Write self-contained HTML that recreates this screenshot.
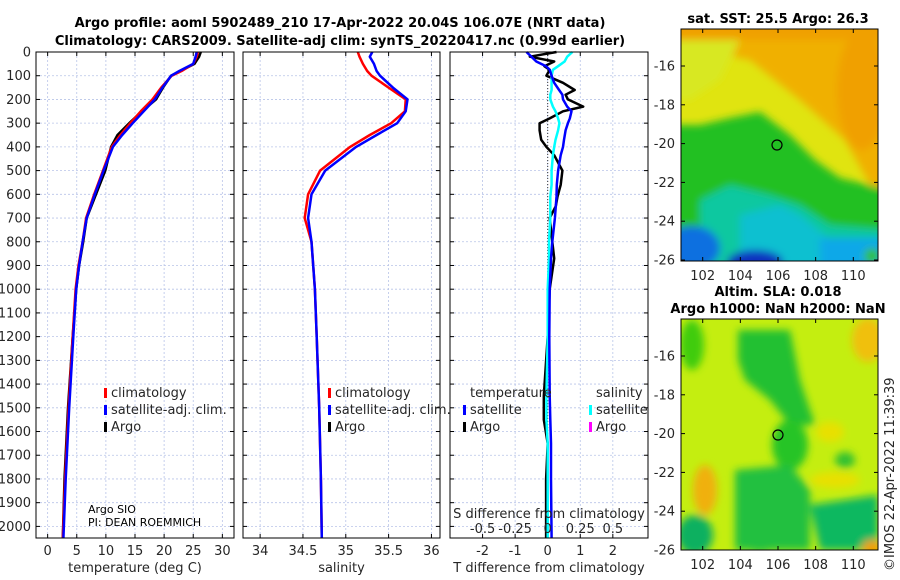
<!DOCTYPE html>
<html><head><meta charset="utf-8"><style>
body{margin:0;background:#fff;}
svg{display:block;font-family:"DejaVu Sans","Liberation Sans",sans-serif;}
.t{font-size:13px;fill:#262626;}
.b{font-size:13px;font-weight:bold;fill:#000;}
.s{font-size:11px;fill:#000;}
</style></head><body>
<svg id="c" width="900" height="580" viewBox="0 0 900 580">
<defs>
<filter id="bl" x="-30%" y="-30%" width="160%" height="160%"><feGaussianBlur stdDeviation="4"/></filter>
<clipPath id="m1"><rect x="681" y="29" width="197" height="232"/></clipPath>
<clipPath id="m2"><rect x="681" y="319" width="197" height="231"/></clipPath>
</defs>
<text class="b" x="340" y="27" text-anchor="middle">Argo profile: aoml 5902489_210 17-Apr-2022 20.04S 106.07E (NRT data)</text>
<text class="b" x="340" y="45" text-anchor="middle">Climatology: CARS2009. Satellite-adj clim: synTS_20220417.nc (0.99d earlier)</text>

<g clip-path="url(#m1)">
<rect x="681" y="29" width="197" height="232" fill="#e0e410"/>
<g filter="url(#bl)">
<rect x="660" y="10" width="240" height="30" fill="#f0a000"/>
<polygon points="700,40 900,40 900,190 870,185 845,140 800,100 750,60 700,50" fill="#f0b000"/>
<ellipse cx="862" cy="90" rx="25" ry="60" fill="#f0a000"/>
<polygon points="670,40 740,40 720,80 690,100 670,100" fill="#d8e820"/>
<polygon points="670,125 700,125 730,118 760,112 790,135 815,160 840,178 890,190 890,270 670,270" fill="#20c020"/>
<polygon points="700,200 730,185 770,195 800,205 830,225 890,230 890,270 700,270" fill="#10c8a0"/>
<polygon points="740,215 780,205 800,215 830,240 890,245 890,270 740,270" fill="#10c0d0"/>
<rect x="820" y="238" width="70" height="30" fill="#10a8e8"/>
<ellipse cx="692" cy="248" rx="28" ry="22" fill="#1070e0"/>
<ellipse cx="755" cy="262" rx="28" ry="12" fill="#0830c0"/>
<ellipse cx="872" cy="256" rx="8" ry="8" fill="#30c030"/>
</g>
<circle cx="777" cy="145" r="5" fill="none" stroke="#000" stroke-width="1.2"/>
</g>
<rect x="681" y="29" width="197" height="232" fill="none" stroke="#000"/>
<text class="b" x="778" y="23" text-anchor="middle">sat. SST: 25.5 Argo: 26.3</text>

<g clip-path="url(#m2)">
<rect x="681" y="319" width="197" height="231" fill="#c4ee10"/>
<g filter="url(#bl)">
<ellipse cx="692" cy="345" rx="12" ry="25" fill="#40cc10"/>
<polygon points="738,330 790,330 800,380 815,425 790,425 770,400 745,380 738,360" fill="#20c030"/>
<ellipse cx="790" cy="445" rx="18" ry="25" fill="#28c428"/>
<polygon points="735,470 790,465 810,490 810,550 735,550" fill="#20c040"/>
<ellipse cx="760" cy="540" rx="20" ry="12" fill="#20c040"/>
<polygon points="810,505 878,495 878,550 820,550" fill="#10b860"/>
<ellipse cx="695" cy="535" rx="18" ry="20" fill="#10b060"/>
<ellipse cx="845" cy="460" rx="10" ry="8" fill="#30c030"/>
<ellipse cx="705" cy="490" rx="12" ry="25" fill="#f0b010"/>
<ellipse cx="868" cy="340" rx="16" ry="22" fill="#f0c010"/>
<ellipse cx="872" cy="548" rx="10" ry="8" fill="#f0a000"/>
<ellipse cx="835" cy="480" rx="25" ry="8" fill="#e8e000"/>
<ellipse cx="830" cy="432" rx="14" ry="10" fill="#e8e000"/>
</g>
<circle cx="778" cy="435" r="5" fill="none" stroke="#000" stroke-width="1.2"/>
</g>
<rect x="681" y="319" width="197" height="231" fill="none" stroke="#000"/>
<text class="b" x="778" y="296" text-anchor="middle">Altim. SLA: 0.018</text>
<text class="b" x="778" y="313" text-anchor="middle">Argo h1000: NaN h2000: NaN</text>
<text class="t" transform="translate(894,571) rotate(-90)">©IMOS 22-Apr-2022 11:39:39</text>
<g id="plots"></g>
</svg>
<script>
// ---- data ----
const depthLevels = [0,20,50,80,100,150,200,250,300,350,400,500,600,700,800,900,1000,1200,1500,1800,2050];
const tempClim    = [25.8,25.6,25.0,23.0,21.3,19.5,18.0,16.0,14.2,12.5,11.0,9.5,8.0,6.6,6.0,5.3,4.8,4.3,3.6,3.0,2.6];
const tempSatAdj  = [25.6,25.4,25.0,22.6,21.2,19.7,18.4,16.5,14.6,12.8,11.2,9.6,8.1,6.7,6.0,5.4,4.9,4.4,3.7,3.1,2.7];
const tempArgo    = [26.3,26.0,25.2,22.8,21.2,19.8,18.6,16.2,14.0,12.0,10.9,9.9,8.3,6.7,6.1,5.4,4.9,4.3,3.5,2.9,2.6];
const salClim     = [35.14,35.16,35.2,35.25,35.3,35.5,35.7,35.69,35.53,35.28,35.05,34.7,34.56,34.52,34.6,34.62,34.64,34.66,34.69,34.71,34.72];
const salSatAdj   = [35.31,35.28,35.33,35.36,35.4,35.55,35.72,35.7,35.6,35.36,35.12,34.76,34.6,34.56,34.6,34.62,34.64,34.66,34.69,34.71,34.72];
const tDiffDepth  = [0,20,40,60,75,100,130,160,180,200,230,250,280,300,330,370,400,435,500,560,610,650,700,800,870,1000,1200,1450,1550,1650,1800,2050];
const tDiffArgo   = [0.27,-0.55,0.2,-0.1,0.06,-0.04,0.47,0.83,0.55,0.62,1.09,0.47,0.06,-0.25,-0.25,-0.2,-0.04,0.2,0.45,0.4,0.3,0.25,0.06,0.14,0.2,0.06,0.0,-0.12,-0.12,0.0,-0.05,-0.05];
const tDiffSat    = [-0.65,-0.5,-0.35,-0.05,0.06,0.12,0.2,0.35,0.45,0.47,0.6,0.73,0.68,0.62,0.55,0.5,0.47,0.4,0.32,0.28,0.27,0.25,0.22,0.14,0.1,0.06,0.05,0.06,0.08,0.1,0.1,0.12];
const sDiffSat    = [0.19,0.15,0.13,0.08,0.04,0.03,0.03,0.03,0.02,0.02,0.04,0.06,0.08,0.09,0.08,0.06,0.05,0.04,0.03,0.03,0.02,0.02,0.02,0.01,0.01,0.0,0.0,-0.01,-0.01,0.0,0.0,0.0];
const depthTicks  = [0,100,200,300,400,500,600,700,800,900,1000,1100,1200,1300,1400,1500,1600,1700,1800,1900,2000];
const tempTicks   = [0,5,10,15,20,25,30];
const salTicks    = [34,34.5,35,35.5,36];
const tDiffTicks  = [-2,-1,0,1,2];
const sDiffTicks  = [-0.5,-0.25,0,0.25,0.5];
const mapLonTicks = [102,104,106,108,110];
const mapLatTicks = [-16,-18,-20,-22,-24,-26];

const NS='http://www.w3.org/2000/svg';
const G=document.getElementById('plots');
function mk(tag,at,parent){const e=document.createElementNS(NS,tag);for(const k in at)e.setAttribute(k,at[k]);(parent||G).appendChild(e);return e;}
const Y0=52, YB=538, DSC=0.2372;
const yD=d=>Y0+d*DSC;
function lin(d0,d1,p0,p1){return v=>p0+(v-d0)*(p1-p0)/(d1-d0);}
const panels=[
 {x0:36,x1:234,sx:lin(-2,32,36,234),ticks:tempTicks,label:'temperature (deg C)',name:'temperature-panel'},
 {x0:243,x1:440,sx:lin(33.8,36.1,243,440),ticks:salTicks,label:'salinity',name:'salinity-panel'},
 {x0:450,x1:648,sx:lin(-3,3.08,450,648),ticks:tDiffTicks,label:'T difference from climatology',name:'difference-panel'}
];
panels.forEach((p,i)=>{
 const g=mk('g',{});
 
 
 depthTicks.forEach(d=>{mk('line',{x1:p.x0,x2:p.x1,y1:yD(d),y2:yD(d),stroke:'#b8c4e8','stroke-width':0.8,'stroke-dasharray':'2,2'},g);
  mk('line',{x1:p.x0,x2:p.x0+4,y1:yD(d),y2:yD(d),stroke:'#000'},g);mk('line',{x1:p.x1-4,x2:p.x1,y1:yD(d),y2:yD(d),stroke:'#000'},g);});
 p.ticks.forEach(v=>{const x=p.sx(v);mk('line',{x1:x,x2:x,y1:Y0,y2:YB,stroke:'#b8c4e8','stroke-width':0.8,'stroke-dasharray':'2,2'},g);
  mk('line',{x1:x,x2:x,y1:YB-4,y2:YB,stroke:'#000'},g);mk('line',{x1:x,x2:x,y1:Y0,y2:Y0+4,stroke:'#000'},g);
  const t=mk('text',{class:'t',x:x,y:555,'text-anchor':'middle'},g);t.textContent=String(v);
  
  });
 const xl=mk('text',{class:'t',x:(p.x0+p.x1)/2,y:572,'text-anchor':'middle'},g);xl.textContent=p.label;
 
 
});
depthTicks.forEach(d=>{const t=mk('text',{class:'t',x:31,y:yD(d)+4.5,'text-anchor':'end'});t.textContent=String(d);
 
 });
function line(xs,ds,sx,col,w,name){const pts=xs.map((v,i)=>sx(v).toFixed(1)+','+yD(ds[i]).toFixed(1)).join(' ');
 const e=mk('polyline',{points:pts,fill:'none',stroke:col,'stroke-width':w,'stroke-linejoin':'round'});
 
 }
const P=panels;
mk('line',{x1:P[2].sx(0),x2:P[2].sx(0),y1:Y0,y2:YB,stroke:'#333','stroke-dasharray':'1,2'});
line(tempArgo,depthLevels,P[0].sx,'#000',2.5,'temp-argo-line');
line(tempClim,depthLevels,P[0].sx,'#f00',2.5,'temp-climatology-line');
line(tempSatAdj,depthLevels,P[0].sx,'#00f',2.5,'temp-satellite-line');
line(salClim,depthLevels,P[1].sx,'#f00',2.5,'salinity-climatology-line');
line(salSatAdj,depthLevels,P[1].sx,'#00f',2.5,'salinity-satellite-line');
const sdx=lin(-0.5,0.5,P[2].sx(-2),P[2].sx(2));
line(tDiffArgo,tDiffDepth,P[2].sx,'#000',2.5,'tdiff-argo-line');
line(sDiffSat,tDiffDepth,sdx,'#0ff',2.5,'sdiff-satellite-line');
line(tDiffSat,tDiffDepth,P[2].sx,'#00f',2.5,'tdiff-satellite-line');
sDiffTicks.forEach(v=>{const t=mk('text',{class:'t',x:sdx(v),y:533,'text-anchor':'middle'});t.textContent=String(v);
 
 });
{const t=mk('text',{class:'t',x:549,y:518,'text-anchor':'middle'});t.textContent='S difference from climatology';
 
 }
panels.forEach(p=>mk('rect',{x:p.x0,y:Y0,width:p.x1-p.x0,height:YB-Y0,fill:'none',stroke:'#000'}));
function leg(x,y,col,txt){mk('rect',{x:x-7,y:y-9,width:3,height:10,fill:col});const t=mk('text',{class:'t',x:x,y:y});t.textContent=txt;
 
 }
[[111,0],[335,1]].forEach(([x])=>{leg(x,397,'#f00','climatology');leg(x,414,'#00f','satellite-adj. clim.');leg(x,431,'#000','Argo');});
{const t=mk('text',{class:'t',x:470,y:397});t.textContent='temperature';}
{const t=mk('text',{class:'t',x:596,y:397});t.textContent='salinity';}
leg(470,414,'#00f','satellite');leg(470,431,'#000','Argo');leg(596,414,'#0ff','satellite');leg(596,431,'#f0f','Argo');
{const t=mk('text',{class:'s',x:88,y:513});t.textContent='Argo SIO';}
{const t=mk('text',{class:'s',x:88,y:526});t.textContent='PI: DEAN ROEMMICH';}
const lonX=lin(102,110,702.7,853.3);
[[29,261,66],[319,550,356]].forEach(([top,bot,y16])=>{
 mapLonTicks.forEach(v=>{const x=lonX(v);mk('line',{x1:x,x2:x,y1:bot-4,y2:bot,stroke:'#000'});mk('line',{x1:x,x2:x,y1:top,y2:top+4,stroke:'#000'});
  const t=mk('text',{class:'t',x:x,y:bot+19,'text-anchor':'middle'});t.textContent=String(v);
  
  });
 mapLatTicks.forEach(v=>{const y=y16+(-16-v)*19.4;mk('line',{x1:681,x2:685,y1:y,y2:y,stroke:'#000'});mk('line',{x1:874,x2:878,y1:y,y2:y,stroke:'#000'});
  const t=mk('text',{class:'t',x:675,y:y+4.5,'text-anchor':'end'});t.textContent=String(v);
  
  });
});
</script>
</body></html>
